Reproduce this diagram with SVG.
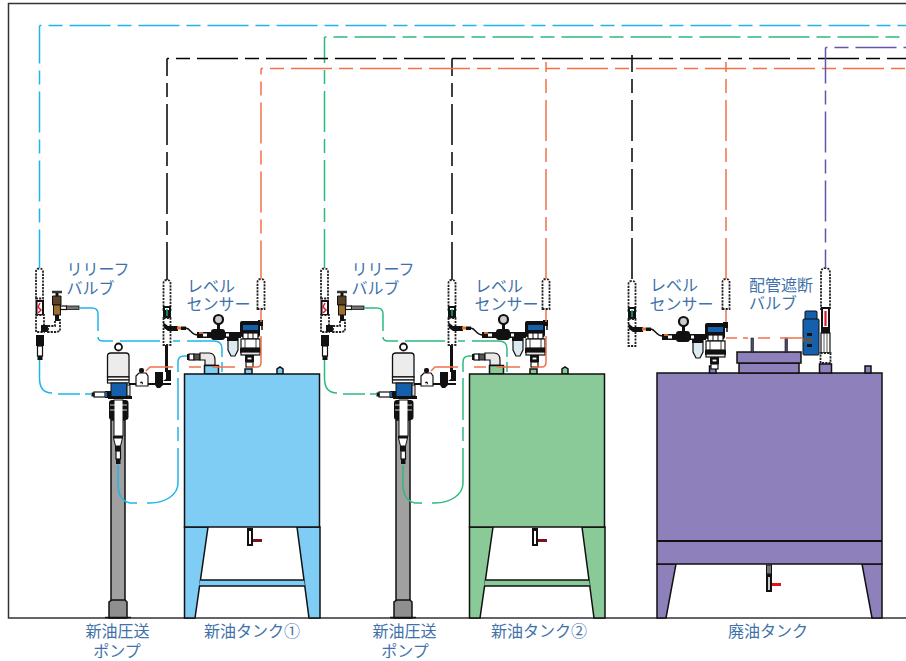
<svg xmlns="http://www.w3.org/2000/svg" width="906" height="661" viewBox="0 0 906 661">
<style>
text{font-family:"Noto Sans CJK JP","Noto Sans",sans-serif;font-size:16px;fill:#3f72aa}
.m{text-anchor:middle}
.ln{fill:none;stroke-width:1.5}
.d{stroke-dasharray:41 7 14 7}
.k{stroke:#000}.b{stroke:#1fb5ea}.g{stroke:#2dba7e}.o{stroke:#f2704a}.p{stroke:#6455a6}
.t{stroke:#111;stroke-width:1.5}
.tb{fill:#7fcdf4}.tg{fill:#8aca98}.tp{fill:#8e80ba}
.w{fill:#fff;stroke:#111;stroke-width:1.2}
.wd{fill:#fff;stroke:#222;stroke-width:1.8;stroke-dasharray:2.2 1.1}
.bk{fill:#111}
.lg{fill:#e8e8e8;stroke:#111;stroke-width:1.2}
.bl{fill:#1560ad;stroke:#111;stroke-width:1}
</style>
<defs>
<g id="tube">
<path class="wd" d="M-3.500 30V3Q-3.500 0 0 0Q3.500 0 3.500 3V30Z"/>
</g>
<g id="sensorLeft">
<use href="#tube" x="167" y="280"/>
<rect class="bk" x="163" y="306" width="8" height="12"/>
<rect x="165" y="308" width="4" height="2" fill="#fff"/>
<path d="M167 309V316" stroke="#1aa868" stroke-width="1.500"/>
<rect class="wd" x="163.500" y="318" width="7" height="27"/>
<path d="M163 322L168 326H172V331H168L164 328Z" class="bk"/>
<rect class="bk" x="170" y="326" width="8" height="5"/>
<rect x="177" y="326.500" width="4" height="3" fill="#e8702f"/>
<rect class="bk" x="181" y="326.500" width="5" height="3.500"/>
<path d="M186 328C191 329 191 335 198 335" fill="none" stroke="#111" stroke-width="1.400"/>
</g>
<g id="sensorAssy">
<circle cx="218.500" cy="319.500" r="4.500" fill="#ccc" stroke="#111" stroke-width="2.200"/>
<rect class="bk" x="217" y="324" width="3" height="5"/>
<rect class="bk" x="197" y="332" width="44" height="6"/>
<rect x="199" y="332" width="4" height="2" fill="#d9632f"/>
<rect x="203" y="333.500" width="4" height="3" fill="#fff"/>
<rect class="bk" x="211" y="329" width="14" height="11" rx="3"/>
<rect x="226" y="333.500" width="3" height="3" fill="#fff"/>
<path d="M228 338H238V350L235 356H231L228 350Z" fill="#dcebf2" stroke="#111" stroke-width="1.200"/>
<rect class="bk" x="227" y="337" width="11" height="4"/>
<rect class="bk" x="240" y="321" width="20" height="16" rx="2"/>
<rect x="243" y="325" width="15" height="5" fill="#1560ad"/>
<rect class="bk" x="258" y="320" width="5" height="6"/>
<path d="M262 325V330" stroke="#111" stroke-width="1.500"/>
<rect class="w" x="243" y="333" width="15" height="6"/>
<path d="M248 333V339M253 333V339" stroke="#111"/>
<rect class="w" x="241" y="339" width="19" height="9"/>
<path d="M245 339V348M256 339V348" stroke="#111" stroke-width=".8"/>
<rect class="bk" x="240" y="348" width="21" height="5"/>
<rect class="lg" x="241" y="352" width="19" height="3"/>
<rect class="bk" x="245" y="355" width="9" height="7"/>
<rect class="w" x="247" y="357" width="5" height="3"/>
<rect class="w" x="246" y="362" width="7" height="5"/>
</g>
<g id="relief">
<use href="#tube" x="39.500" y="268.500"/>
<rect class="bk" x="35.500" y="300" width="8.500" height="15"/>
<rect x="37.500" y="302" width="4.500" height="12" fill="#fff"/>
<path d="M40 303L38 307L41 310L38 313" fill="none" stroke="#e0182a" stroke-width="1.500"/>
<rect class="wd" x="36" y="315" width="8" height="17"/>
<rect class="bk" x="41" y="325" width="7" height="7"/>
<path d="M48 326H55V320H60V331L57 332H48Z" class="wd"/>
<rect class="bk" x="36" y="335" width="8" height="11"/>
<rect class="w" x="37.500" y="346" width="5" height="10"/>
<rect class="bk" x="37.500" y="356" width="5" height="4"/>
<path d="M52 292H62" stroke="#333" stroke-width="2.500"/>
<rect class="bk" x="55.500" y="293" width="3" height="3"/>
<path d="M52.500 296H61V305H52.500Z" fill="#5a4226" stroke="#111"/>
<rect x="53.500" y="305" width="7" height="10" fill="#9c6f2e" stroke="#111"/>
<rect class="bk" x="55" y="315" width="4" height="6"/>
<rect class="w" x="60.500" y="306" width="6" height="3.500"/>
<rect x="66.500" y="306" width="12.500" height="3.500" fill="#777" stroke="#111" stroke-width=".8"/>
</g>
<g id="pump">
<rect x="111" y="420" width="14" height="182" fill="#a0a0a0" stroke="#111" stroke-width="1.500"/>
<path d="M109 618V602L112 600H125L127 602V618Z" fill="#8f8f8f" stroke="#111" stroke-width="1.500"/>
<path d="M105 617.500H131" stroke="#111" stroke-width="1.500"/>
<circle cx="118.500" cy="347" r="3.500" fill="#fff" stroke="#111" stroke-width="1.800"/>
<path d="M107.500 377V356Q107.500 353 111 353H126Q129 353 129 356V377Z" fill="#ececec" stroke="#111" stroke-width="1.300"/>
<rect class="w" x="107.500" y="377" width="21.500" height="3"/>
<rect class="w" x="107.500" y="380" width="21.500" height="3"/>
<rect class="bl" x="111" y="383" width="16" height="15"/>
<rect class="bk" x="108" y="396" width="24" height="3"/>
<rect x="127" y="385" width="3" height="11" fill="#ddd" stroke="#111"/>
<rect class="w" x="94" y="392" width="11" height="5"/>
<rect class="bk" x="91.500" y="392.500" width="3" height="4"/>
<rect class="bk" x="105" y="391" width="6" height="7"/>
<rect x="105" y="392" width="2" height="5" fill="#1560ad"/>
<path d="M129 384H171" stroke="#111" stroke-width="2"/>
<path d="M136 376L139 373H146L148 376V386H136Z" class="w"/>
<rect class="bk" x="139" y="368" width="5" height="5" rx="2"/>
<circle cx="141.500" cy="383" r="1.500" fill="#111"/>
<circle cx="141" cy="384" r="1" fill="#fff"/>
<path d="M155 372H163V385L160 388H157L155 385Z" class="bk"/>
<path d="M163 381H171V370H166V379Z" class="bk"/>
<path d="M166.500 345V372" stroke="#111" stroke-width="3"/>
<rect x="109" y="400" width="19.500" height="20" rx="3" class="bk"/>
<rect x="114" y="400" width="9" height="36" fill="#fff" stroke="#111"/>
<path d="M110 405H127M110 410H127" stroke="#fff" stroke-width=".8"/>
<rect class="bk" x="113" y="436" width="10" height="2"/>
<path d="M113.500 438H122.500L120.500 446H115.500Z" fill="#fff" stroke="#111"/>
<rect class="bk" x="115" y="446" width="6" height="5"/>
<rect class="w" x="116" y="451" width="4.500" height="8"/>
<rect class="bk" x="116" y="459" width="4.500" height="5"/>
</g>
<g id="elbow">
<rect class="bk" x="187" y="354" width="2" height="6"/>
<rect class="w" x="189" y="354" width="5" height="6"/>
<rect x="194" y="354" width="6" height="6" fill="#555" stroke="#111"/>
<path d="M200 353H209Q215 353 215 360V365H205V360H200Z" class="lg"/>
</g>
</defs>

<g id="frame"><path d="M906 3.500H8.500V618H906" fill="none" stroke="#333" stroke-width="1.500"/></g>

<g id="tank1">
<path class="tb t" d="M184.500 527H208L195 618H184.500Z"/>
<path class="tb t" d="M297 527H320V618H309Z"/>
<path class="tb" d="M200 580H304L305 586H199Z"/>
<path class="t" d="M200 580H304M199 586H305" fill="none"/>
<rect class="tb t" x="204.500" y="365.500" width="14" height="8.500"/>
<rect class="tb t" x="245" y="369" width="7" height="5"/>
<path class="tb t" d="M277 374V369L280 367L283 369V374Z"/>
<rect class="tb t" x="184.500" y="374" width="135" height="153"/>
<rect class="bk" x="247" y="528" width="6" height="18"/>
<rect x="249" y="531" width="2" height="13" fill="#fff"/>
<rect x="253" y="539" width="9" height="3" fill="#7a1520"/>
</g>
<g id="tank2">
<path class="tg t" d="M469.500 527H493L480 618H469.500Z"/>
<path class="tg t" d="M582 527H605V618H594Z"/>
<path class="tg" d="M485 580H589L590 586H484Z"/>
<path class="t" d="M485 580H589M484 586H590" fill="none"/>
<rect class="tg t" x="489.500" y="365.500" width="14" height="8.500"/>
<rect class="tg t" x="530" y="369" width="7" height="5"/>
<path class="tg t" d="M562 374V369L565 367L568 369V374Z"/>
<rect class="tg t" x="469.500" y="374" width="135" height="153"/>
<rect class="bk" x="532" y="528" width="6" height="18"/>
<rect x="534" y="531" width="2" height="13" fill="#fff"/>
<rect x="538" y="539" width="9" height="3" fill="#7a1520"/>
</g>
<g id="tank3">
<path class="tp t" d="M657 564H676L666 618H657Z"/>
<path class="tp t" d="M862 564H882V618H872Z"/>
<rect class="tp t" x="657" y="373" width="225" height="191"/>
<path d="M657 541H882" stroke="#111" stroke-width="1.800"/>
<rect class="tp t" x="709.500" y="366" width="6.500" height="7"/>
<rect class="tp t" x="819.500" y="364" width="12" height="9"/>
<rect class="tp t" x="865" y="366" width="6" height="7"/>
<rect class="tp t" x="739" y="363" width="60" height="10"/>
<rect class="tp t" x="737" y="352" width="64" height="11"/>
<rect x="751" y="338" width="2.500" height="14" fill="#4a4a70" stroke="#111" stroke-width=".6"/>
<rect x="785" y="338" width="2.500" height="14" fill="#4a4a70" stroke="#111" stroke-width=".6"/>
<rect x="766.500" y="565" width="5" height="9" fill="#777" stroke="#111"/>
<rect class="bk" x="766" y="574" width="6" height="18"/>
<rect x="768" y="577" width="2" height="13" fill="#ccc"/>
<rect x="772" y="583" width="9" height="3" fill="#e0101c"/>
</g>

<g id="pump1"><use href="#pump"/></g>
<g id="pump2"><use href="#pump" x="285"/></g>
<g id="relief1"><use href="#relief"/></g>
<g id="relief2"><use href="#relief" x="285"/></g>
<g id="elbow1"><use href="#elbow"/></g>
<g id="elbow2"><use href="#elbow" x="285"/></g>
<g id="sensor1"><use href="#sensorLeft"/><use href="#tube" x="261" y="279"/><use href="#sensorAssy"/></g>
<g id="sensor2"><use href="#sensorLeft" x="285"/><use href="#tube" x="546" y="279"/><use href="#sensorAssy" x="285"/></g>
<g id="sensor3"><use href="#sensorLeft" x="465" y="1"/><use href="#tube" x="726" y="279"/><use href="#sensorAssy" x="465" y="2"/></g>
<g id="valve3">
<rect class="bl" x="805" y="311" width="12" height="9" rx="1"/>
<rect class="bl" x="803" y="319" width="16" height="36" rx="1"/>
<rect class="bk" x="807" y="333" width="5" height="3"/>
<rect class="bk" x="807" y="344" width="5" height="3"/>
<rect x="803" y="338" width="9" height="4" fill="#555"/>
<path class="wd" d="M821 310V273Q821 268 825.500 268Q830 268 830 273V310Z"/>
<rect class="bk" x="821" y="307" width="9" height="22"/>
<rect x="823" y="309" width="5" height="18" fill="#fff"/>
<path d="M825.500 311V326" stroke="#e0182a" stroke-width="2.200"/>
<rect class="bk" x="821" y="329" width="9" height="4"/>
<rect class="w" x="821" y="333" width="9" height="20"/>
<path d="M824 333V353M827 333V353" stroke="#111" stroke-width=".7"/>
<rect class="wd" x="820.500" y="353" width="10" height="10"/>
</g>

<g id="connectors">
<path class="ln b d" d="M39.500 25.500H906" stroke-dashoffset="39"/>
<path class="ln b d" d="M39.500 25.500V268" stroke-dashoffset="3"/>
<path class="ln g d" d="M324.500 37H906" stroke-dashoffset="39"/>
<path class="ln g d" d="M324.500 37V268" stroke-dashoffset="15"/>
<path class="ln k d" d="M167 58.500H906" stroke-dashoffset="39"/>
<path class="ln k d" d="M167 58.500V280" stroke-dashoffset="23.500"/>
<path class="ln k d" d="M452 58.500V280" stroke-dashoffset="23.500"/>
<path class="ln k d" d="M632 55V280" stroke-dashoffset="24"/>
<path class="ln o d" d="M261 68.500H906" stroke-dashoffset="39"/>
<path class="ln o d" d="M261 68.500V279" stroke-dashoffset="35"/>
<path class="ln o d" d="M546 62V279" stroke-dashoffset="31"/>
<path class="ln o d" d="M726 62V279" stroke-dashoffset="31"/>
<path class="ln p d" d="M825.500 47.500H906" stroke-dashoffset="39"/>
<path class="ln p d" d="M825.500 47.500V268" stroke-dashoffset="5"/>
<path class="ln b" d="M79 308H92Q98 308 98 314V331"/>
<path class="ln b" d="M98 337Q98 341 103 341H113M120 341H160M173 341H180M187 341H214Q222 341 222 349V357M222 362V372"/>
<path class="ln b" d="M39.500 360V378Q39.500 393 52 393M58 394H80M85 394H92"/>
<path class="ln b" d="M187 356H184Q178 356 178 362V372M178 378V420M178 427V441M178 448V483C178 495 165 503 150 503H147M137 503H130C122 501 118 495 118 485V465"/>
<path class="ln g" d="M364 308H377Q383 308 383 314V331"/>
<path class="ln g" d="M383 337Q383 341 388 341H398M405 341H445M458 341H465M472 341H499Q507 341 507 349V357M507 362V372"/>
<path class="ln g" d="M324.500 360V378Q324.500 393 337 393M343 394H365M370 394H377"/>
<path class="ln g" d="M472 356H469Q463 356 463 362V372M463 378V420M463 427V441M463 448V483C463 495 450 503 435 503H432M422 503H415C407 501 403 495 403 485V465"/>
<path class="ln o" d="M261 310V322M261 336V362Q261 367 257 367H247M235 367H212M201 367H189M173 367H150L146 371"/>
<path class="ln o" d="M546 310V322M546 336V362Q546 367 542 367H532M520 367H497M486 367H474M458 367H435L431 371"/>
<path class="ln o" d="M726 310V322M726 338H737M743 338H748M758 338H770M780 338H803"/>
</g>

<g id="labels">
<text x="66.500" y="275">リリーフ</text><text x="66.500" y="294">バルブ</text>
<text x="187" y="292">レベル</text><text x="186.500" y="310">センサー</text>
<text x="351.500" y="275">リリーフ</text><text x="351.500" y="294">バルブ</text>
<text x="475" y="292">レベル</text><text x="474.500" y="310">センサー</text>
<text x="650" y="291">レベル</text><text x="649.500" y="310">センサー</text>
<text x="749" y="291">配管遮断</text><text x="749" y="309">バルブ</text>
<text class="m" x="117.500" y="637">新油圧送</text><text class="m" x="117" y="657">ポンプ</text>
<text class="m" x="252" y="637">新油タンク①</text>
<text class="m" x="404.500" y="637">新油圧送</text><text class="m" x="405" y="657">ポンプ</text>
<text class="m" x="539" y="637">新油タンク②</text>
<text class="m" x="768" y="637">廃油タンク</text>
</g>
</svg>
